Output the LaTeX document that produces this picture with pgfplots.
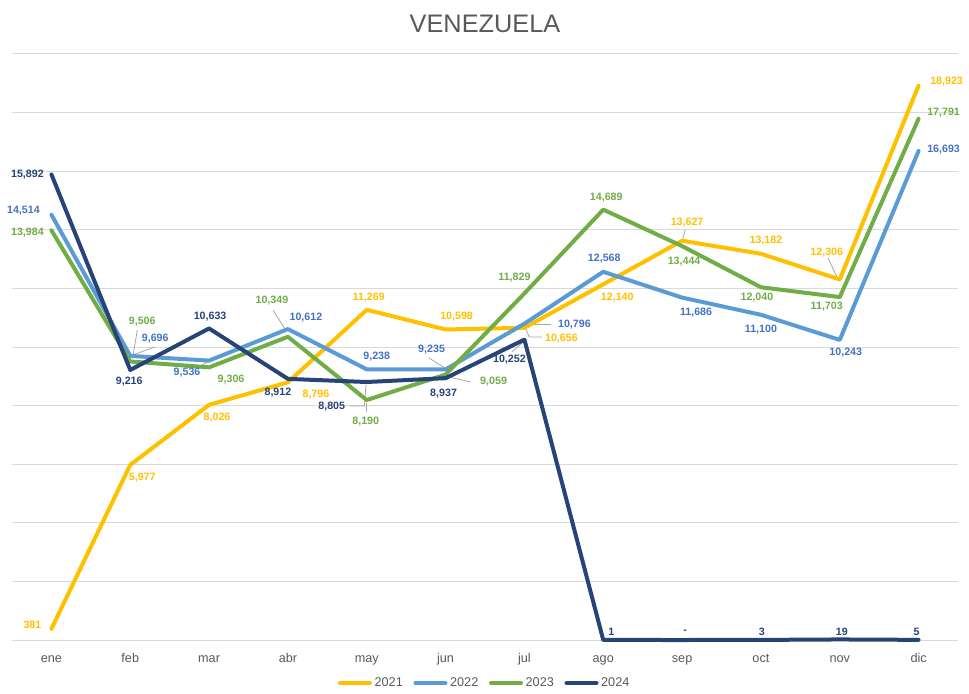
\documentclass[border=0pt]{standalone}
\usepackage{pgfplots}
\pgfplotsset{compat=1.18}
\usepackage{pgfplotstable}
\usepackage{fontspec}
\setmainfont{Liberation Sans}
\definecolor{c21}{HTML}{FFC000}
\definecolor{c22}{HTML}{5B9BD5}
\definecolor{c22t}{HTML}{4472C4}
\definecolor{c23}{HTML}{70AD47}
\definecolor{c24}{HTML}{264478}
\definecolor{txt}{HTML}{595959}
\definecolor{grd}{HTML}{D9D9D9}
\definecolor{lead}{HTML}{A6A6A6}

% x = month index, y = value, lab = data label, dx/dy = label offset in px
\pgfplotstableread{
x y lab dx dy
0 381 381 -19 4
1 5977 5,977 12 -13
2 8026 8,026 8 -13
3 8796 8,796 28 -12
4 11269 11,269 2 12
5 10598 10,598 11 13
6 10656 10,656 37 -11
7 12140 12,140 14 -13
8 13627 13,627 5 18
9 13182 13,182 5 13
10 12306 12,306 -13 27
11 18923 18,923 28 4
}\tA
\pgfplotstableread{
x y lab dx dy
0 14514 14,514 -28 4
1 9696 9,696 25 17
2 9536 9,536 -22 -12
3 10612 10,612 18 11
4 9238 9,238 10 13
5 9235 9,235 -14 20
6 10796 10,796 50 -1
7 12568 12,568 1 13
8 11686 11,686 14 -15
9 11100 11,100 0 -15
10 10243 10,243 6 -13
11 16693 16,693 25 1
}\tB
\pgfplotstableread{
x y lab dx dy
0 13984 13,984 -24 -2
1 9506 9,506 12 40
2 9306 9,306 22 -12
3 10349 10,349 -16 36
4 8190 8,190 -1 -22
5 9059 9,059 48 -7
6 11829 11,829 -10 16
7 14689 14,689 3 12
8 13444 13,444 2 -16
9 12040 12,040 -4 -10
10 11703 11,703 -13 -9
11 17791 17,791 25 6
}\tC
\pgfplotstableread{
x y lab dx dy
0 15892 15,892 -24 0
1 9216 9,216 -1 -12
2 10633 10,633 1 12
3 8912 8,912 -10 -14
4 8805 8,805 -35 -25
5 8937 8,937 -2 -15
6 10252 10,252 -15 -20
7 1 1 8 8
8 0 - 3 8
9 3 3 1 8
10 19 19 2 8
11 5 5 -2 8
}\tD

\pgfplotsset{
  lab/.style={
    nodes near coords={\pgfplotspointmeta},
    point meta=explicit symbolic,
    nodes near coords align={center},
    visualization depends on={0.75*\thisrow{dx}\as\ldx},
    visualization depends on={0.75*\thisrow{dy}\as\ldy},
    every node near coord/.append style={anchor=center, inner sep=0pt,
      xshift=\ldx pt, yshift=\ldy pt, text=#1,
      font=\bfseries\fontsize{8}{9}\selectfont},
  },
  ser/.style={draw=#1, line width=3pt, line join=round, line cap=round, mark=none},
  leader/.style={forget plot, draw=lead, line width=0.6pt},
}

\begin{document}
\begin{tikzpicture}
\path[use as bounding box] (-9pt,-39.75pt) rectangle (717.75pt,480pt);
\begin{axis}[
  at={(0,0)}, anchor=south west,
  scale only axis, width=709.5pt, height=439.5pt,
  xmin=-0.5, xmax=11.5, ymin=0, ymax=20000,
  xtick={0,...,11},
  xticklabels={ene,feb,mar,abr,may,jun,jul,ago,sep,oct,nov,dic},
  ytick={0,2000,...,20000}, yticklabels={}, scaled y ticks=false,
  ymajorgrids, grid style={grd, line width=0.75pt},
  axis line style={draw=none}, major tick length=0pt,
  xticklabel style={anchor=base, yshift=-16.5pt, text=txt,
    font=\fontsize{9.5}{11}\selectfont},
  title={VENEZUELA},
  title style={at={(0.5,1)}, anchor=base, yshift=10pt, text=txt,
    font=\fontsize{19}{22}\selectfont},
  legend columns=4,
  legend style={draw=none, at={(0.5,0)}, anchor=center, yshift=-32.25pt,
    font=\fontsize{9.5}{11}\selectfont, text=txt,
    /tikz/every even column/.append style={column sep=6pt}},
  legend image code/.code={\draw[#1] (0pt,0pt) -- (22.5pt,0pt);},
  clip=false,
]
% leader lines
\addplot[leader] coordinates {(6.02,10615) (6.06,10342) (6.22,10342)};
\addplot[leader] coordinates {(8.0,13618) (8.04,13993)};
\addplot[leader] coordinates {(9.85,13038) (9.97,12355)};
\addplot[leader] coordinates {(1.03,9727) (1.31,10000)};
\addplot[leader] coordinates {(1.03,9625) (1.09,10580)};
\addplot[leader] coordinates {(1.84,9284) (1.98,9489)};
\addplot[leader] coordinates {(2.81,11263) (2.98,10546)};
\addplot[leader] coordinates {(4.79,9625) (4.99,9284)};
\addplot[leader] coordinates {(6.02,10785) (6.34,10785)};
\addplot[leader] coordinates {(5.04,8976) (5.32,8806)};
\addplot[leader] coordinates {(3.78,7987) (3.97,7987) (3.99,8703)};
\addplot[leader] coordinates {(5.84,9830) (5.97,10137)};
\addplot[leader] coordinates {(3.99,8089) (3.99,7782)};
% series
\addplot[ser=c21, lab=c21] table[x=x, y=y, meta=lab] {\tA};
\addlegendentry{2021}
\addplot[ser=c22, lab=c22t] table[x=x, y=y, meta=lab] {\tB};
\addlegendentry{2022}
\addplot[ser=c23, lab=c23] table[x=x, y=y, meta=lab] {\tC};
\addlegendentry{2023}
\addplot[ser=c24, lab=c24] table[x=x, y=y, meta=lab] {\tD};
\addlegendentry{2024}
\end{axis}
\end{tikzpicture}
\end{document}
